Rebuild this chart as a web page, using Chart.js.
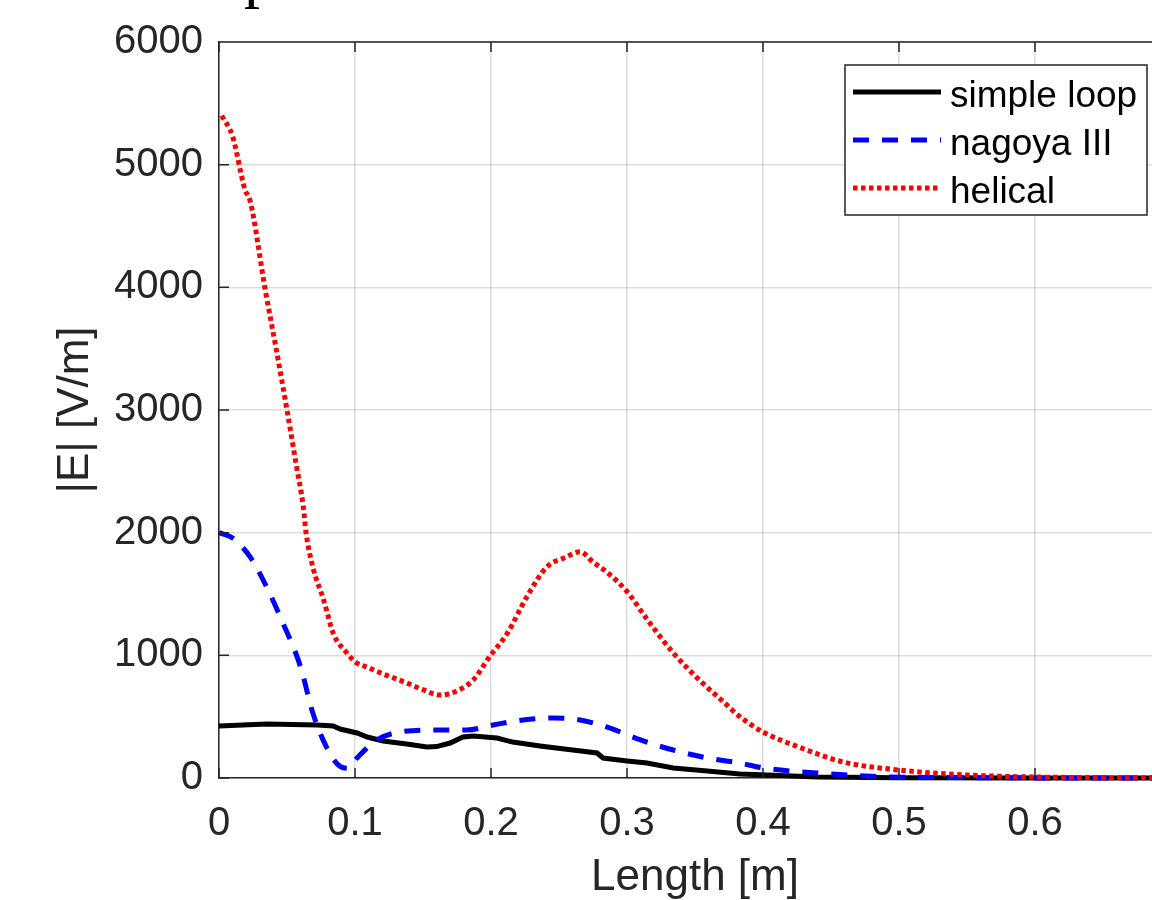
<!DOCTYPE html>
<html>
<head>
<meta charset="utf-8">
<script src="https://cdn.jsdelivr.net/npm/chart.js@4.4.1/dist/chart.umd.min.js"></script>
<style>
  html, body { margin: 0; padding: 0; background: #fff; overflow: hidden; width: 1152px; height: 900px; }
  #wrap { position: relative; width: 1152px; height: 900px; overflow: hidden; }
  canvas { position: absolute; left: 0; top: 0; width: 1193px; height: 900px; }
  .cut { position: absolute; left: 244px; top: -58px; font: 64px/64px "Liberation Serif", serif; color: #000; }
</style>
</head>
<body>
<div id="wrap">
  <canvas id="chart" width="1193" height="900" style="width:1193px;height:900px"></canvas>
  <div class="cut">p</div>
</div>
<script>
// values
const loopX = [0, 0.035, 0.072, 0.084, 0.089, 0.1015, 0.109, 0.1206, 0.138, 0.153, 0.16, 0.17, 0.1794, 0.187, 0.2044, 0.216, 0.236, 0.26, 0.278, 0.2824, 0.30, 0.3147, 0.334, 0.359, 0.383, 0.403, 0.44, 0.5, 0.6, 0.7]
const loopE = [424, 440, 432, 424, 399, 367, 334, 302, 277, 253, 256, 285, 334, 342, 326, 293, 261, 228, 204, 163, 139, 122, 82, 57, 33, 24, 8, 2, 0, 0]

const nagoyaX = [0, 0.01, 0.023, 0.035, 0.047, 0.06, 0.069, 0.079, 0.089, 0.095, 0.1015, 0.116, 0.133, 0.157, 0.182, 0.2015, 0.2235, 0.2456, 0.2655, 0.285, 0.31, 0.334, 0.359, 0.383, 0.4, 0.44, 0.488, 0.55, 0.6, 0.65, 0.7]
const nagoyaE = [2000, 1956, 1800, 1557, 1263, 905, 530, 253, 95, 80, 163, 310, 375, 391, 391, 432, 473, 489, 473, 416, 310, 228, 163, 122, 82, 41, 10, 3, 1, 0, 0]

const helicalX = [0.002, 0.01, 0.019, 0.023, 0.034, 0.042, 0.05, 0.057, 0.0618, 0.064, 0.069, 0.077, 0.084, 0.094, 0.101, 0.11, 0.118, 0.138, 0.15, 0.1625, 0.175, 0.187, 0.199, 0.212, 0.2265, 0.241, 0.255, 0.2655, 0.275, 0.285, 0.30, 0.315, 0.334, 0.354, 0.37, 0.383, 0.40, 0.427, 0.459, 0.50, 0.55, 0.60, 0.65, 0.70]
const helicalE = [5400, 5230, 4800, 4700, 3980, 3500, 3000, 2540, 2225, 2000, 1720, 1450, 1180, 1020, 940, 900, 860, 775, 720, 676, 710, 800, 990, 1180, 1480, 1720, 1800, 1845, 1760, 1680, 1520, 1290, 1020, 790, 630, 500, 375, 250, 130, 65, 24, 8, 3, 1]

const seriesNames = ['simple loop', 'nagoya III', 'helical']
const xTicks = [0, 0.1, 0.2, 0.3, 0.4, 0.5, 0.6, 0.7]
const yTicks = [0, 1000, 2000, 3000, 4000, 5000, 6000]

const axisColor = '#262626'
const gridColor = 'rgba(38,38,38,0.16)'

Chart.defaults.font.family = '"Liberation Sans", Arial, sans-serif'

const toPoints = (xs, ys) => xs.map((x, i) => ({ x: x, y: ys[i] }))

// inward tick marks on left, bottom and top + top box edge
const boxTicks = {
  id: 'boxTicks',
  afterDraw(chart) {
    const { ctx, chartArea: a, scales: { x, y } } = chart
    ctx.save()
    ctx.strokeStyle = axisColor
    ctx.lineWidth = 1.5
    ctx.beginPath()
    ctx.moveTo(a.left, a.top)
    ctx.lineTo(a.right, a.top)
    yTicks.forEach(v => {
      const py = y.getPixelForValue(v)
      ctx.moveTo(a.left, py)
      ctx.lineTo(a.left + 10, py)
    })
    xTicks.forEach(v => {
      const px = x.getPixelForValue(v)
      ctx.moveTo(px, a.bottom)
      ctx.lineTo(px, a.bottom - 10)
      ctx.moveTo(px, a.top)
      ctx.lineTo(px, a.top + 10)
    })
    ctx.stroke()
    ctx.restore()
  }
}

// MATLAB style legend box in the upper right corner
const boxLegend = {
  id: 'boxLegend',
  afterDraw(chart) {
    const ctx = chart.ctx
    ctx.save()
    ctx.fillStyle = '#fff'
    ctx.fillRect(845, 65, 302, 150)
    ctx.strokeStyle = axisColor
    ctx.lineWidth = 1.5
    ctx.strokeRect(845, 65, 302, 150)
    ctx.font = '37px "Liberation Sans", Arial, sans-serif'
    ctx.textBaseline = 'alphabetic'
    seriesNames.forEach((name, i) => {
      const ds = chart.data.datasets.find(d => d.label === name)
      const ly = 92 + i * 48
      ctx.strokeStyle = ds.borderColor
      ctx.lineWidth = ds.borderWidth
      ctx.setLineDash(ds.borderDash || [])
      ctx.beginPath()
      ctx.moveTo(853, ly)
      ctx.lineTo(941, ly)
      ctx.stroke()
      ctx.setLineDash([])
      ctx.fillStyle = '#000'
      ctx.fillText(name, 950, ly + 15)
    })
    ctx.restore()
  }
}

new Chart(document.getElementById('chart'), {
  type: 'line',
  data: {
    datasets: [
      {
        label: seriesNames[0],
        data: toPoints(loopX, loopE),
        borderColor: '#000',
        borderWidth: 5,
        tension: 0,
        order: 2
      },
      {
        label: seriesNames[1],
        data: toPoints(nagoyaX, nagoyaE),
        borderColor: '#0000ff',
        borderWidth: 5,
        borderDash: [16, 13],
        cubicInterpolationMode: 'monotone',
        order: 1
      },
      {
        label: seriesNames[2],
        data: toPoints(helicalX, helicalE),
        borderColor: '#ff0000',
        borderWidth: 5,
        borderDash: [4.5, 3.5],
        cubicInterpolationMode: 'monotone',
        order: 0
      }
    ]
  },
  options: {
    responsive: false,
    animation: false,
    devicePixelRatio: 1,
    clip: false,
    elements: { point: { radius: 0 }, line: { borderCapStyle: 'butt', fill: false } },
    layout: { padding: { left: 0, top: 42, right: 0, bottom: 0 } },
    plugins: { legend: { display: false }, tooltip: { enabled: false } },
    scales: {
      x: {
        type: 'linear',
        min: 0,
        max: 0.7,
        afterFit: s => { s.height = 122 },
        afterBuildTicks: s => { s.ticks = xTicks.map(v => ({ value: v })) },
        grid: { color: gridColor, lineWidth: 1.5, drawTicks: false },
        border: { color: axisColor, width: 1.5 },
        ticks: {
          padding: 22,
          color: axisColor,
          font: { size: 40 },
          maxRotation: 0,
          callback: v => (v > 0.65 ? '' : (v === 0 ? '0' : v.toFixed(1)))
        },
        title: {
          display: true,
          text: 'Length [m]',
          color: axisColor,
          font: { size: 44, lineHeight: 1 },
          padding: { top: 0, bottom: 0 }
        }
      },
      y: {
        min: 0,
        max: 6000,
        afterFit: s => { s.width = 219 },
        afterBuildTicks: s => { s.ticks = yTicks.map(v => ({ value: v })) },
        grid: { color: gridColor, lineWidth: 1.5, drawTicks: false },
        border: { color: axisColor, width: 1.5 },
        ticks: {
          padding: 16,
          color: axisColor,
          font: { size: 40 },
          callback: v => String(v)
        },
        title: {
          display: true,
          text: '|E| [V/m]',
          color: axisColor,
          font: { size: 44, lineHeight: 1 },
          padding: { top: 54, bottom: 0 }
        }
      }
    }
  },
  plugins: [boxTicks, boxLegend]
})
</script>
</body>
</html>
